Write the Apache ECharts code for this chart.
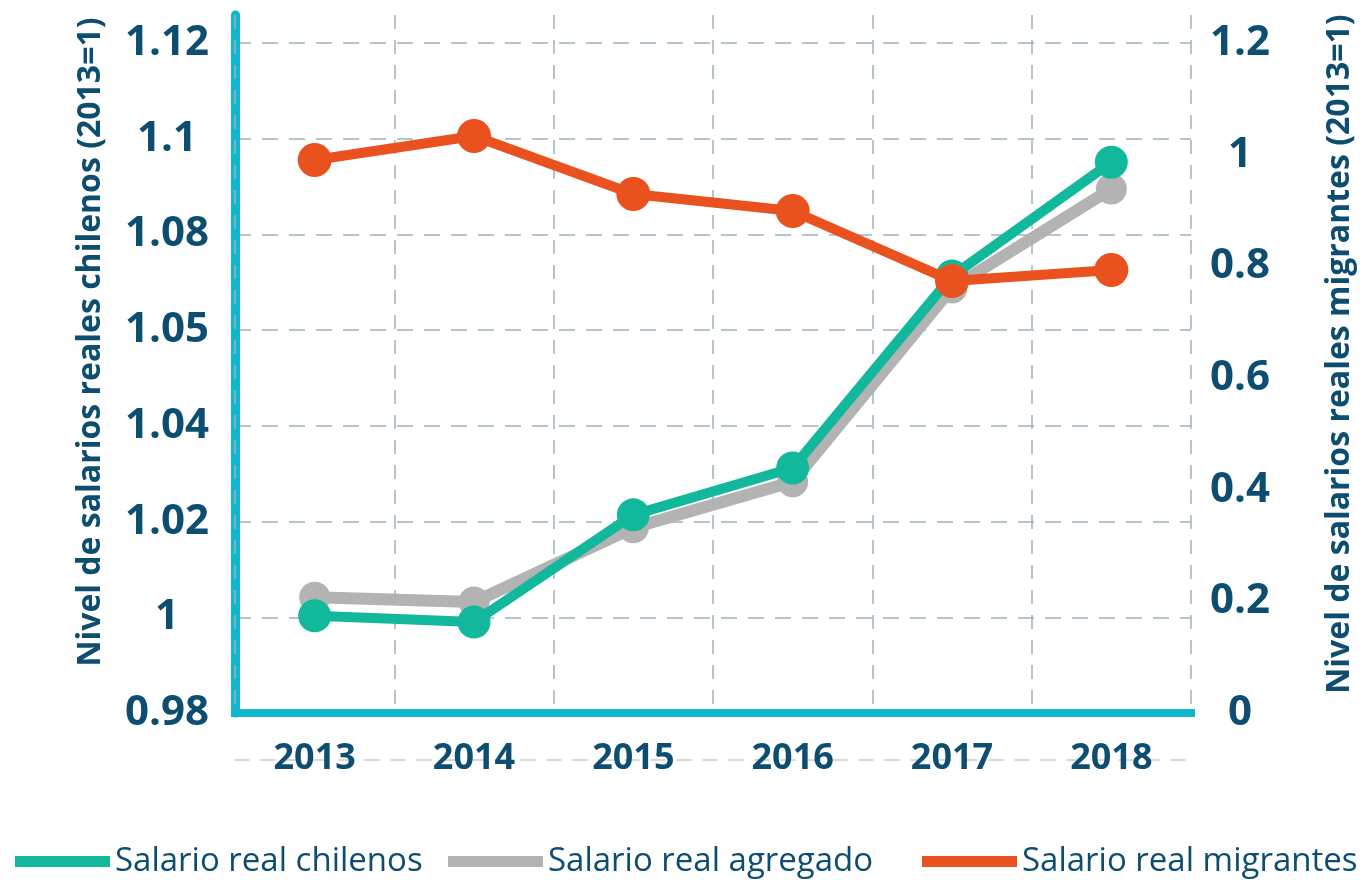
<!DOCTYPE html>
<html>
<head>
<meta charset="utf-8">
<title>Nivel de salarios reales 2013-2018</title>
<script src="https://cdn.jsdelivr.net/npm/echarts@6/dist/echarts.min.js"></script>
<style>
  html, body { margin: 0; padding: 0; background: #fff; }
  #chart { width: 1364px; height: 880px; }
</style>
</head>
<body>
<div id="chart"></div>
<script>
// data
const years = ['2013', '2014', '2015', '2016', '2017', '2018']
const chilenos = [1.0003, 0.9990, 1.0214, 1.0312, 1.0713, 1.0951]
const agregado = [1.0042, 1.0032, 1.0187, 1.0283, 1.0688, 1.0895]
const migrantes = [0.9905, 1.0335, 0.9296, 0.8991, 0.7738, 0.7935]

// tick labels as printed in the source
const leftTickLabels = ['0.98', '1', '1.02', '1.04', '1.05', '1.08', '1.1', '1.12']
const rightTickLabels = ['0', '0.2', '0.4', '0.6', '0.8', '1', '1.2']

const textColor = '#0c4d70'
const axisCyan = '#10b6cc'
const gridColor = '#9db2c0'
const font = "'Open Sans', sans-serif"

const chart = echarts.init(document.getElementById('chart'))

// top split line (at the axis max) is hidden, the rest are dashed
const splitColors = leftTickLabels.map(() => gridColor).concat(['rgba(0,0,0,0)'])

const legendBase = {
  top: 840, icon: 'rect', itemWidth: 95, itemHeight: 11, itemGap: 14,
  textStyle: { color: textColor, fontSize: 33, fontFamily: font }
}

chart.setOption({
  animation: false,
  textStyle: { fontFamily: font },
  grid: { left: 235, right: 167, top: 15, bottom: 167 },
  legend: [
    Object.assign({ left: 10, data: ['Salario real chilenos'] }, legendBase),
    Object.assign({ left: 443, data: ['Salario real agregado'] }, legendBase),
    Object.assign({ left: 917, data: ['Salario real migrantes'] }, legendBase)
  ],
  xAxis: [
    {
      type: 'category',
      data: years,
      z: 3,
      axisLine: { lineStyle: { color: axisCyan, width: 8, cap: 'square' } },
      axisTick: { show: false },
      axisLabel: { color: textColor, fontSize: 36, fontWeight: 'bold', margin: 28 },
      splitLine: { show: true, lineStyle: { color: gridColor, width: 1.5, type: [14, 11] } }
    },
    {
      type: 'category',
      data: years,
      position: 'bottom',
      offset: 47,
      z: 1,
      axisLine: { lineStyle: { color: '#c9cccf', width: 1.5, type: [14, 12] } },
      axisTick: { show: false },
      axisLabel: { show: false },
      splitLine: { show: false }
    }
  ],
  yAxis: [
    {
      type: 'value',
      position: 'left',
      min: 0.98,
      max: 1.12585,
      interval: 0.02,
      name: 'Nivel de salarios reales chilenos (2013=1)',
      nameLocation: 'middle',
      nameGap: 128,
      nameRotate: 90,
      nameTextStyle: { color: textColor, fontSize: 32, fontWeight: 'bold', padding: [0, 0, 0, 44] },
      axisLine: { show: true, lineStyle: { color: axisCyan, width: 9 } },
      axisTick: { show: false },
      axisLabel: {
        color: textColor, fontSize: 42, fontWeight: 'bold', align: 'center', margin: 68,
        formatter: (v, i) => leftTickLabels[i] ?? ''
      },
      splitLine: { show: true, lineStyle: { color: splitColors, width: 1.5, type: [16, 11] } }
    },
    {
      type: 'value',
      position: 'right',
      min: 0,
      max: 1.2501,
      interval: 0.2,
      name: 'Nivel de salarios reales migrantes (2013=1)',
      nameLocation: 'middle',
      nameGap: 133,
      nameRotate: 90,
      nameTextStyle: { color: textColor, fontSize: 32, fontWeight: 'bold', padding: [0, 0, 0, 20] },
      axisLine: { show: false },
      axisTick: { show: false },
      axisLabel: {
        color: textColor, fontSize: 42, fontWeight: 'bold', align: 'center', margin: 49,
        formatter: (v, i) => rightTickLabels[i] ?? ''
      },
      splitLine: { show: false }
    }
  ],
  series: [
    {
      name: 'Salario real agregado',
      type: 'line',
      yAxisIndex: 0,
      data: agregado,
      z: 2,
      symbol: 'circle',
      symbolSize: 31,
      color: '#b3b3b3',
      lineStyle: { color: '#b3b3b3', width: 12 },
      itemStyle: { color: '#b3b3b3' },
      emphasis: { disabled: true }
    },
    {
      name: 'Salario real chilenos',
      type: 'line',
      yAxisIndex: 0,
      data: chilenos,
      z: 3,
      symbol: 'circle',
      symbolSize: 33,
      color: '#11b89c',
      lineStyle: { color: '#11b89c', width: 10 },
      itemStyle: { color: '#11b89c' },
      emphasis: { disabled: true }
    },
    {
      name: 'Salario real migrantes',
      type: 'line',
      yAxisIndex: 1,
      data: migrantes,
      z: 4,
      symbol: 'circle',
      symbolSize: 34,
      color: '#e9521f',
      lineStyle: { color: '#e9521f', width: 10 },
      itemStyle: { color: '#e9521f' },
      emphasis: { disabled: true }
    }
  ]
})
</script>
</body>
</html>
